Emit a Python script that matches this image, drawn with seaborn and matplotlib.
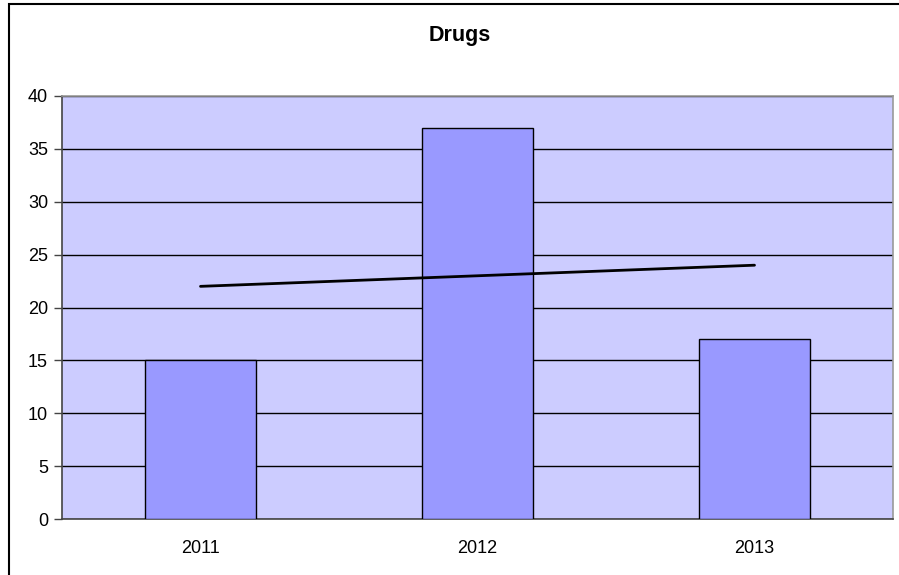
import numpy as np
import pandas as pd
import matplotlib
matplotlib.use("Agg")
import matplotlib.pyplot as plt
import seaborn as sns
from matplotlib.patches import Rectangle

years = ["2011", "2012", "2013"]
counts = [15, 37, 17]
title = "Drugs"
yticks = [0, 5, 10, 15, 20, 25, 30, 35, 40]

df = pd.DataFrame({"year": years, "count": counts})

sns.set_style("white")
plt.rcParams["font.family"] = ["Liberation Sans", "DejaVu Sans"]
plt.rcParams["text.color"] = "black"
plt.rcParams["xtick.color"] = "black"
plt.rcParams["ytick.color"] = "black"

fig = plt.figure(figsize=(8.99, 5.75), dpi=100)
ax = fig.add_axes([62 / 899, 56 / 575, 831 / 899, 423 / 575])
ax.set_facecolor("#CCCCFF")

sns.barplot(data=df, x="year", y="count", color="#9999FF", width=0.4,
            edgecolor="black", linewidth=1.0, saturation=1, ax=ax, zorder=3)

# linear trend line
x = np.arange(len(counts))
slope, intercept = np.polyfit(x, counts, 1)
ax.plot(x, slope * x + intercept, color="black", linewidth=2, zorder=4)

ax.set_xlim(-0.5, len(years) - 0.5)
ax.set_ylim(0, 40)
ax.set_yticks(yticks)
ax.yaxis.grid(True, color="black", linewidth=1)
ax.set_axisbelow(True)
ax.set_xlabel("")
ax.set_ylabel("")

# category boundary ticks on x axis
ax.set_xticks(np.arange(-0.5, len(years)), minor=True)
ax.tick_params(axis="x", which="major", length=0, pad=15, labelsize=13)
ax.tick_params(axis="x", which="minor", length=6, width=1, direction="out", color="#444444")
ax.tick_params(axis="y", which="major", length=6, width=1, direction="out", pad=4,
               labelsize=13, color="#444444", left=True)

for side in ["left", "bottom"]:
    ax.spines[side].set_color("#444444")
    ax.spines[side].set_linewidth(1.2)
for side in ["top", "right"]:
    ax.spines[side].set_color("#999999")
    ax.spines[side].set_linewidth(1.2)

fig.text(460 / 899, (575 - 35) / 575, title, ha="center", va="center",
         fontsize=15.5, fontweight="bold")

# chart area border (top and left visible)
fig.patches.append(Rectangle((8.5 / 899, -0.05), 1.0, (575 - 3.5) / 575 + 0.05,
                             transform=fig.transFigure, fill=False,
                             edgecolor="black", linewidth=1.5))

fig.savefig("out.png", dpi=100)
